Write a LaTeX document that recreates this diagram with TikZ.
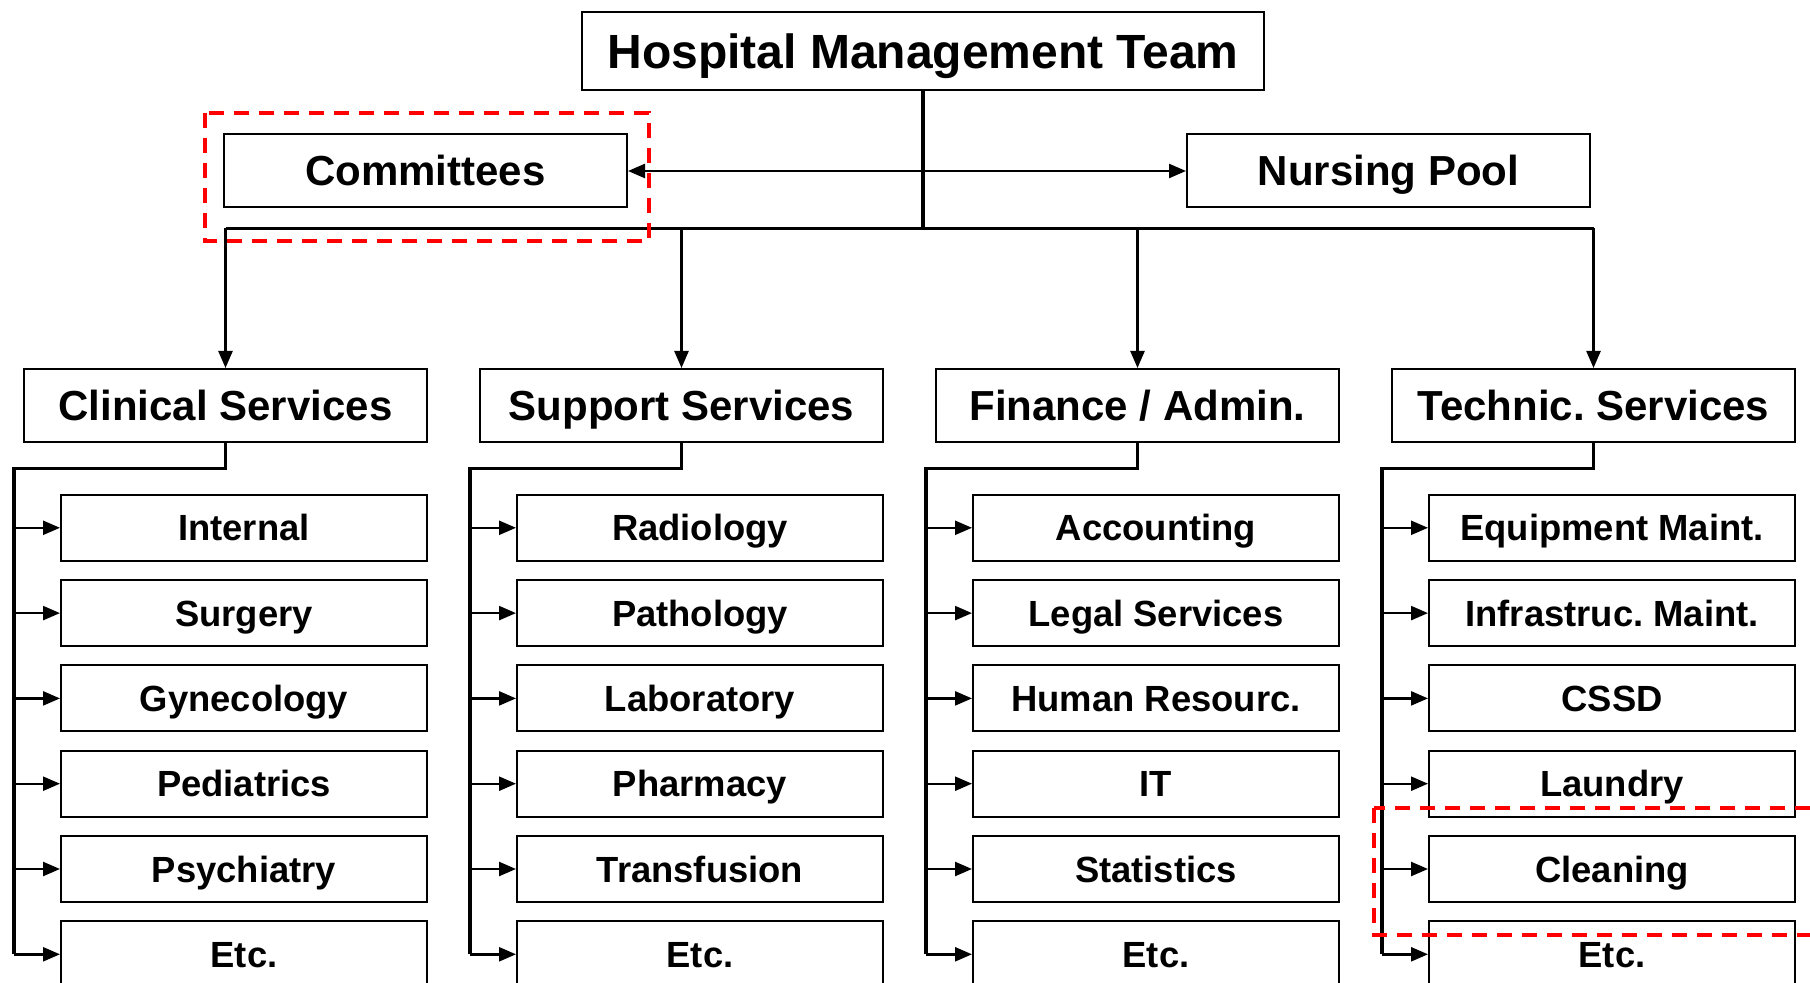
\documentclass[tikz,border=0pt]{standalone}
\usepackage{fontspec}
\setmainfont{Liberation Sans}
\usetikzlibrary{positioning}
\usetikzlibrary{arrows.meta}

\begin{document}
\begin{tikzpicture}[x=0.5pt,y=-0.5pt,
	box/.style={draw,line width=1pt,inner sep=0pt,text height=15pt,text depth=0pt,font=\bfseries\frenchspacing\fontsize{21}{25}\selectfont,minimum width=201.5pt,minimum height=36.5pt},
	head/.style={box,text height=17.2pt,font=\bfseries\fontsize{24}{29}\selectfont,minimum width=341pt,minimum height=39pt},
	unit/.style={box,text height=13pt,font=\bfseries\frenchspacing\fontsize{18.2}{22}\selectfont,minimum width=183pt,minimum height=33pt},
	link/.style={line width=1.6pt},
	feed/.style={line width=1.2pt,-{Triangle[length=8.5pt,width=7pt]}},
	redbox/.style={red,line width=2pt,dash pattern=on 7.5pt off 5pt}]
		\useasboundingbox (0,0) rectangle (1810,983);
		\clip (0,0) rectangle (1810,983);
		\node[head] (hmt) at (923,51) {Hospital Management Team};
		\node[box] (com) at (425.5,171) {Committees};
		\node[box] (nur) at (1388.5,171) {Nursing Pool};
		\node[box] (cl) at (225.5,405.5) {Clinical Services};
		\node[box] (su) at (681.5,405.5) {Support Services};
		\node[box] (fi) at (1137.5,405.5) {Finance / Admin.};
		\node[box] (te) at (1593.5,405.5) {Technic. Services};
		\coordinate (bus) at (923,228.5);
		\draw[link] (hmt.south) -- (bus);
		\draw[line width=1.2pt,{Triangle[length=8.5pt,width=7pt]}-{Triangle[length=8.5pt,width=7pt]}] (com) -- (nur);
		\draw[link] (cl.north |- bus) -- (te.north |- bus);
		\foreach \g in {cl,su,fi,te}
		{\draw[feed] (\g.north |- bus) -- (\g.north);}
		\foreach \g/\list in {cl/{Internal,Surgery,Gynecology,Pediatrics,Psychiatry,Etc.},
			su/{Radiology,Pathology,Laboratory,Pharmacy,Transfusion,Etc.},
			fi/{Accounting,Legal Services,Human Resourc.,IT,Statistics,Etc.},
			te/{Equipment Maint.,Infrastruc. Maint.,CSSD,Laundry,Cleaning,Etc.}}
		{\coordinate (tr\g) at ([xshift=-105.75pt,yshift=-12.75pt]\g.south);
		\foreach \t [count=\k] in \list
		{\pgfmathsetmacro{\d}{25.4+(\k-1)*42.65}
		\node[unit,below=\d pt of \g,xshift=9.25pt] (\g\k) {\t};
		\draw[feed] (tr\g |- \g\k.west) -- (\g\k.west);}
		\draw[link] (\g.south) |- (tr\g) -- (tr\g |- \g6.west);}
		% highlighted parts
		\draw[redbox] (205,113) rectangle (649,241);
		\draw[redbox] (1374,808) rectangle (1840,935);
	   \end{tikzpicture}
\end{document}
